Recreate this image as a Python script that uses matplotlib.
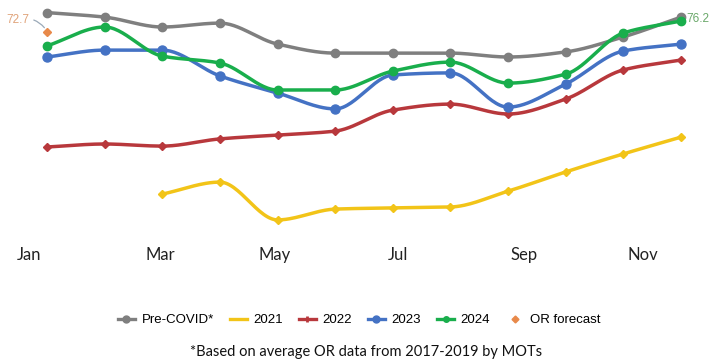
import numpy as np
import matplotlib
matplotlib.use("Agg")
import matplotlib.pyplot as plt
from matplotlib.lines import Line2D

months = ["Jan", "Feb", "Mar", "Apr", "May", "Jun", "Jul", "Aug", "Sep", "Oct", "Nov", "Dec"]
tick_labels = ["Jan", "Mar", "May", "Jul", "Sep", "Nov"]
tick_pos = [-0.31, 1.96, 3.95, 6.09, 8.28, 10.33]

pre_covid = [79.0, 77.5, 74.2, 75.5, 68.5, 65.5, 65.5, 65.5, 64.2, 65.9, 70.9, 77.5]
y2021 = [None, None, 18.5, 22.5, 9.9, 13.5, 13.9, 14.2, 19.5, 25.9, 31.9, 37.5]
y2022 = [34.2, 35.2, 34.5, 36.9, 38.2, 39.5, 46.5, 48.5, 45.2, 50.2, 59.9, 63.2]
y2023 = [64.2, 66.5, 66.5, 57.9, 52.2, 46.9, 58.2, 58.9, 47.5, 55.2, 66.2, 68.5]
y2024 = [67.9, 74.2, 64.5, 62.2, 53.2, 53.2, 59.5, 62.5, 55.5, 58.5, 72.2, 76.2]
or_forecast = 72.7
or_forecast_month = "Jan"

C_GRAY = "#7f7f7f"
C_YEL = "#f2c418"
C_RED = "#b8383c"
C_BLUE = "#4472c4"
C_GREEN = "#19ae4c"
C_ORANGE = "#e8894a"


def monotone(xs, ys, n=30):
    xs = np.asarray(xs, float)
    ys = np.asarray(ys, float)
    h = np.diff(xs)
    d = np.diff(ys) / h
    m = np.zeros_like(ys)
    m[0] = d[0]
    m[-1] = d[-1]
    for i in range(1, len(ys) - 1):
        if d[i - 1] * d[i] <= 0:
            m[i] = 0
        else:
            m[i] = 3 * (h[i - 1] + h[i]) / ((2 * h[i] + h[i - 1]) / d[i - 1] + (h[i] + 2 * h[i - 1]) / d[i])
    X, Y = [], []
    for i in range(len(xs) - 1):
        t = np.linspace(0, 1, n)
        h00 = 2 * t**3 - 3 * t**2 + 1
        h10 = t**3 - 2 * t**2 + t
        h01 = -2 * t**3 + 3 * t**2
        h11 = t**3 - t**2
        X.append(xs[i] + t * h[i])
        Y.append(h00 * ys[i] + h10 * h[i] * m[i] + h01 * ys[i + 1] + h11 * h[i] * m[i + 1])
    return np.concatenate(X), np.concatenate(Y)


fig = plt.figure(figsize=(7.11, 3.63), dpi=100)
ax = fig.add_axes([0, 123 / 363, 1, 240 / 363])


def draw(vals, color, marker, ms, lw=2.5, z=2):
    pts = [(i, v) for i, v in enumerate(vals) if v is not None]
    xs = [p[0] for p in pts]
    ys = [p[1] for p in pts]
    sx, sy = monotone(xs, ys)
    ax.plot(sx, sy, color=color, lw=lw, solid_capstyle="round", zorder=z)
    ax.plot(xs, ys, ls="none", marker=marker, ms=ms, color=color, zorder=z + 0.1)


draw(y2021, C_YEL, "D", 4.0, z=2)
draw(y2022, C_RED, "D", 4.0, z=3)
draw(pre_covid, C_GRAY, "o", 6.0, z=4)
draw(y2023, C_BLUE, "o", 6.5, z=5)
draw(y2024, C_GREEN, "o", 6.0, z=6)

fi = months.index(or_forecast_month)
ax.plot([fi], [or_forecast], ls="none", marker="D", ms=4, color=C_ORANGE, zorder=7)
ax.annotate(f"{or_forecast}", xy=(fi - 0.03, or_forecast + 0.9), xytext=(-0.5, 76.4),
            fontsize=8.5, color="#e0a37a", ha="center", va="center", family="Liberation Sans",
            arrowprops=dict(arrowstyle="-", color="#9aa9b8", lw=0.9,
                            connectionstyle="arc3,rad=-0.35", shrinkA=1, shrinkB=1))
ax.text(11.3, y2024[-1] + 0.7, f"{y2024[-1]}", fontsize=8.5, color="#6aa86a",
        ha="center", va="center", family="Liberation Sans")

# pixel mapping: Jan at 47px, Dec at 681px
ax.set_xlim(-47 / 57.64, (711 - 47) / 57.64)
ax.set_ylim(76.2 - (240 - 21) / 3.0, 76.2 + 21 / 3.0)
for s in ax.spines.values():
    s.set_visible(False)
ax.set_yticks([])
ax.set_xticks(tick_pos)
ax.set_xticklabels(tick_labels, fontsize=12, family="Lato", color="#222222")
ax.tick_params(axis="x", length=0, pad=5)

handles = [
    Line2D([], [], color=C_GRAY, lw=2.4, marker="o", ms=5),
    Line2D([], [], color=C_YEL, lw=2.4),
    Line2D([], [], color=C_RED, lw=2.4, marker="|", ms=5, mew=2),
    Line2D([], [], color=C_BLUE, lw=2.4, marker="o", ms=5),
    Line2D([], [], color=C_GREEN, lw=2.4, marker="o", ms=4),
    Line2D([], [], color=C_ORANGE, ls="none", marker="D", ms=3.5),
]
labels = ["Pre-COVID*", "2021", "2022", "2023", "2024", "OR forecast"]
leg = fig.legend(handles, labels, loc="center", bbox_to_anchor=(0.505, 1 - 320 / 363), ncol=6,
                 frameon=False, handlelength=1.3, handletextpad=0.5, columnspacing=1.2,
                 prop=dict(family="Liberation Sans", size=9.5))

fig.text(366 / 711, 1 - 352 / 363, "*Based on average OR data from 2017-2019 by MOTs",
         ha="center", va="center", fontsize=10.5, family="Lato", color="#111111")

fig.savefig("out.png", dpi=100)
